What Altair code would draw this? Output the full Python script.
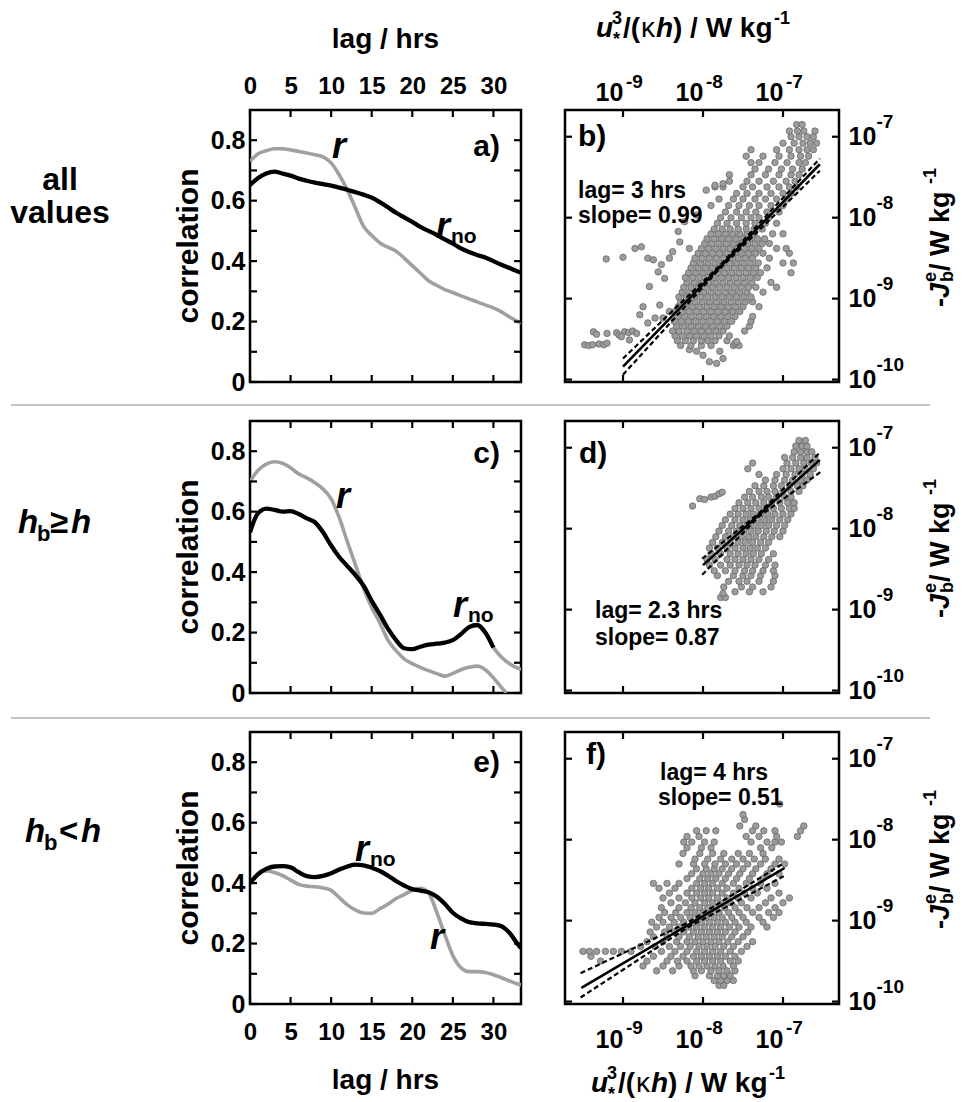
import altair as alt
import pandas as pd

FONT = "Liberation Sans"
GRAY = "#a0a0a0"
PT_FILL = "#9c9c9c"
PT_STROKE = "#606060"
W_L, W_R, H = 271, 274, 272
TK = 8      # label offset reference
TL = 7      # drawn tick length (inward)

# ---------------- correlation vs lag (hours) ----------------
LAG = list(range(34)) + [33.4]
A_R = [0.73, 0.755, 0.765, 0.772, 0.772, 0.768, 0.763, 0.758, 0.752, 0.745, 0.725, 0.685, 0.635, 0.575, 0.515,
       0.485, 0.46, 0.446, 0.433, 0.41, 0.385, 0.36, 0.335, 0.32, 0.306, 0.296, 0.285, 0.275, 0.265, 0.255,
       0.245, 0.232, 0.215, 0.2, 0.195]
A_RNO = [0.652, 0.675, 0.69, 0.696, 0.69, 0.683, 0.673, 0.666, 0.66, 0.655, 0.65, 0.643, 0.636, 0.628, 0.62,
         0.61, 0.595, 0.578, 0.56, 0.545, 0.53, 0.513, 0.5, 0.487, 0.472, 0.458, 0.442, 0.43, 0.42, 0.412,
         0.4, 0.388, 0.377, 0.366, 0.362]

C_R_LAG = list(range(32)) + [31.6]
C_R = [0.70, 0.737, 0.757, 0.765, 0.76, 0.745, 0.725, 0.712, 0.696, 0.675, 0.642, 0.58, 0.5, 0.424, 0.345,
       0.283, 0.232, 0.175, 0.14, 0.113, 0.097, 0.085, 0.074, 0.064, 0.056, 0.065, 0.077, 0.085, 0.089, 0.077,
       0.05, 0.018, 0.0]
C_RNO_LAG = [0, 0.5] + list(range(1, 31))
C_RNO = [0.532, 0.57, 0.595, 0.61, 0.606, 0.6, 0.602, 0.592, 0.578, 0.565, 0.532, 0.488, 0.45, 0.42, 0.39,
         0.355, 0.305, 0.26, 0.213, 0.175, 0.148, 0.145, 0.153, 0.16, 0.163, 0.167, 0.175, 0.195, 0.218, 0.225,
         0.2, 0.15]
C_TAIL_LAG = [30, 31, 32, 33, 33.4]
C_TAIL = [0.15, 0.118, 0.097, 0.082, 0.078]

E_R = [0.40, 0.428, 0.44, 0.435, 0.425, 0.41, 0.396, 0.39, 0.388, 0.384, 0.376, 0.352, 0.328, 0.311, 0.301,
       0.3, 0.315, 0.33, 0.349, 0.362, 0.376, 0.383, 0.368, 0.305, 0.23, 0.16, 0.12, 0.107, 0.107, 0.104,
       0.097, 0.087, 0.076, 0.066, 0.063]
E_RNO = [0.40, 0.43, 0.447, 0.455, 0.456, 0.452, 0.436, 0.423, 0.42, 0.424, 0.433, 0.445, 0.455, 0.461, 0.459,
         0.451, 0.44, 0.425, 0.407, 0.392, 0.38, 0.375, 0.37, 0.356, 0.332, 0.302, 0.283, 0.271, 0.267, 0.265,
         0.263, 0.257, 0.235, 0.198, 0.185]

LAG_TICKS = [0, 5, 10, 15, 20, 25, 30]
CORR_TICKS = [0, 0.1, 0.2, 0.3, 0.4, 0.5, 0.6, 0.7, 0.8]

# ---------------- scatter panels (log10 values) ----------------
LX_DOM = [-9.725, -6.3]
LY_DOM = [-10.03, -6.67]
DEC_X = [1e-9, 1e-8, 1e-7]
DEC_Y = [1e-10, 1e-9, 1e-8, 1e-7]

B_FIT_LX = [-9.0, -6.54]
B_FIT_LY = [-9.84, -7.34]
B_BAND_LX = [-9.0, -7.8, -6.54]
B_UP_LY = [-9.74, -8.60, -7.27]
B_LO_LY = [-9.94, -8.64, -7.42]

D_FIT_LX = [-8.0, -6.54]
D_FIT_LY = [-8.45, -7.15]
D_BAND_LX = [-8.01, -7.3, -6.53]
D_UP_LY = [-8.37, -7.81, -7.05]
D_LO_LY = [-8.57, -7.85, -7.30]

F_FIT_LX = [-9.52, -6.98]
F_FIT_LY = [-9.83, -8.35]
F_BAND_LX = [-9.53, -8.2, -6.99]
F_UP_LY = [-9.65, -9.03, -8.29]
F_LO_LY = [-9.95, -9.09, -8.45]

B_ROWS = [
    (-9.80, [-7.83]), (-9.78, [-7.92]), (-9.74, [-7.75]), (-9.70, [-8.0]),
    (-9.65, [-8.08, -7.79]), (-9.63, [-8.17]),
    (-9.58, [-8.28, -8.15, -8.02, -7.9, -7.62, -7.55]),
    (-9.52, [-8.32, -8.22, -8.12, -8.02, -7.94, -7.85, -7.7]),
    (-9.46, [-8.35, -8.26, -8.17, -8.08, -7.99, -7.9, -7.8, -7.67]),
    (-9.40, [-8.38, -8.3, -8.2, -8.11, -8.02, -7.93, -7.84, -7.75, -7.48]),
    (-9.34, [-8.33, -8.24, -8.15, -8.06, -7.97, -7.88, -7.79, -7.7, -7.42]),
    (-9.28, [-8.36, -8.27, -8.18, -8.09, -8.0, -7.91, -7.82, -7.73, -7.64, -7.4]),
    (-9.22, [-8.32, -8.23, -8.14, -8.05, -7.96, -7.87, -7.78, -7.69, -7.6, -7.38]),
    (-9.16, [-8.35, -8.26, -8.17, -8.08, -7.99, -7.9, -7.81, -7.72, -7.63, -7.54]),
    (-9.10, [-8.31, -8.22, -8.13, -8.04, -7.95, -7.86, -7.77, -7.68, -7.59, -7.5, -7.3]),
    (-9.04, [-8.28, -8.19, -8.1, -8.01, -7.92, -7.83, -7.74, -7.65, -7.56, -7.47, -7.38]),
    (-8.98, [-8.3, -8.21, -8.12, -8.03, -7.94, -7.85, -7.76, -7.67, -7.58, -7.49, -7.4]),
    (-8.92, [-8.26, -8.17, -8.08, -7.99, -7.9, -7.81, -7.72, -7.63, -7.54, -7.45, -7.25]),
    (-8.86, [-8.24, -8.15, -8.06, -7.97, -7.88, -7.79, -7.7, -7.61, -7.52, -7.43, -7.34, -7.08]),
    (-8.80, [-8.2, -8.11, -8.02, -7.93, -7.84, -7.75, -7.66, -7.57, -7.48, -7.39, -7.15]),
    (-8.74, [-8.22, -8.13, -8.04, -7.95, -7.86, -7.77, -7.68, -7.59, -7.5, -7.41, -7.32]),
    (-8.68, [-8.18, -8.09, -8.0, -7.91, -7.82, -7.73, -7.64, -7.55, -7.46, -7.37, -7.28, -6.9]),
    (-8.62, [-8.15, -8.06, -7.97, -7.88, -7.79, -7.7, -7.61, -7.52, -7.43, -7.34, -7.2]),
    (-8.56, [-8.12, -8.03, -7.94, -7.85, -7.76, -7.67, -7.58, -7.49, -7.4, -7.31, -7.0, -6.87]),
    (-8.50, [-8.1, -8.01, -7.92, -7.83, -7.74, -7.65, -7.56, -7.47, -7.38, -7.17]),
    (-8.44, [-8.06, -7.97, -7.88, -7.79, -7.7, -7.61, -7.52, -7.43, -7.34, -7.25, -6.92]),
    (-8.38, [-8.02, -7.93, -7.84, -7.75, -7.66, -7.57, -7.48, -7.39, -7.3, -7.08, -6.96]),
    (-8.32, [-7.98, -7.89, -7.8, -7.71, -7.62, -7.53, -7.44, -7.35, -7.26, -7.17]),
    (-8.26, [-7.95, -7.86, -7.77, -7.68, -7.59, -7.5, -7.41, -7.32, -7.23]),
    (-8.20, [-7.9, -7.81, -7.72, -7.63, -7.54, -7.45, -7.36, -7.13, -7.0]),
    (-8.14, [-7.86, -7.76, -7.66, -7.56, -7.46, -7.36, -7.26]),
    (-8.07, [-7.82, -7.7, -7.58, -7.46, -7.35, -7.22, -7.08]),
    (-8.00, [-7.78, -7.65, -7.52, -7.4, -7.3, -7.18]),
    (-7.93, [-7.72, -7.58, -7.46, -7.34, -7.2, -7.05]),
    (-7.85, [-7.9, -7.68, -7.55, -7.42, -7.3, -7.15, -7.0]),
    (-7.77, [-7.8, -7.62, -7.5, -7.35, -7.22, -7.08, -6.95]),
    (-7.70, [-7.58, -7.45, -7.3, -7.15, -7.0, -6.9]),
    (-7.62, [-7.85, -7.75, -7.5, -7.38, -7.2, -7.05, -6.92, -6.83]),
    (-7.55, [-7.67, -7.45, -7.3, -7.12, -6.96, -6.85]),
    (-7.47, [-7.67, -7.4, -7.22, -7.05, -6.9, -6.8]),
    (-7.40, [-7.35, -7.18, -7.02, -6.88, -6.76]),
    (-7.32, [-7.4, -7.3, -7.1, -6.95, -6.8, -6.72]),
    (-7.24, [-7.46, -7.25, -7.05, -6.9, -6.78, -6.68]),
    (-7.16, [-7.4, -7.08, -6.92, -6.8, -6.7, -6.62]),
    (-7.08, [-7.0, -6.86, -6.75, -6.66, -6.58]),
    (-7.00, [-6.9, -6.8, -6.7, -6.62]),
    (-6.93, [-6.92, -6.82, -6.74, -6.6]),
    (-6.85, [-6.83, -6.76]),
]
B_EXTRA = [
    (-9.37, -9.41), (-9.33, -9.44), (-9.2, -9.43), (-9.08, -9.42), (-9.05, -9.45), (-8.98, -9.41),
    (-8.93, -9.42), (-8.88, -9.40), (-8.83, -9.43), (-9.48, -9.57), (-9.43, -9.58), (-9.38, -9.57),
    (-9.30, -9.56), (-9.24, -9.57), (-9.2, -9.55), (-9.02, -9.47), (-8.92, -9.51),
    (-9.21, -8.51), (-9.0, -8.49), (-8.85, -8.38), (-8.77, -8.36), (-8.69, -8.5), (-8.62, -8.52),
    (-8.52, -8.58), (-8.42, -8.5), (-8.56, -8.67), (-8.48, -8.75), (-8.67, -8.85), (-8.75, -9.1),
    (-8.79, -9.2), (-8.54, -9.08), (-8.6, -9.24), (-8.69, -9.3), (-8.5, -9.24), (-8.42, -9.16),
    (-8.38, -8.42), (-8.29, -8.3), (-8.31, -8.17), (-8.17, -8.38), (-8.23, -8.05), (-8.08, -7.97),
    (-7.96, -7.66), (-7.85, -7.6), (-7.75, -7.58), (-7.6, -9.55), (-7.58, -9.53),
]

D_ROWS = [
    (-8.85, [-7.78, -7.72]),
    (-8.78, [-7.6, -7.42, -7.25]),
    (-8.72, [-7.74, -7.52, -7.38, -7.15]),
    (-8.65, [-7.68, -7.55, -7.45, -7.3, -7.12]),
    (-8.58, [-7.82, -7.62, -7.5, -7.4, -7.28, -7.1]),
    (-8.52, [-7.86, -7.72, -7.6, -7.48, -7.38, -7.25, -7.12]),
    (-8.45, [-7.92, -7.78, -7.66, -7.55, -7.45, -7.35, -7.22, -7.1]),
    (-8.38, [-7.95, -7.85, -7.7, -7.6, -7.5, -7.4, -7.3, -7.18]),
    (-8.31, [-7.9, -7.78, -7.66, -7.56, -7.46, -7.37, -7.27, -7.12]),
    (-8.24, [-7.92, -7.82, -7.7, -7.6, -7.5, -7.41, -7.32, -7.22]),
    (-8.17, [-7.88, -7.76, -7.66, -7.56, -7.47, -7.38, -7.28, -7.18]),
    (-8.10, [-7.84, -7.72, -7.62, -7.52, -7.43, -7.34, -7.24, -7.14, -7.04]),
    (-8.03, [-7.8, -7.68, -7.58, -7.49, -7.4, -7.31, -7.21, -7.11, -7.0]),
    (-7.96, [-7.76, -7.64, -7.54, -7.45, -7.36, -7.27, -7.18, -7.08, -6.98]),
    (-7.89, [-7.72, -7.6, -7.5, -7.41, -7.32, -7.23, -7.14, -7.04, -6.94]),
    (-7.82, [-7.66, -7.56, -7.46, -7.37, -7.28, -7.19, -7.1, -7.0, -6.9]),
    (-7.75, [-7.6, -7.5, -7.4, -7.3, -7.21, -7.12, -7.02, -6.92, -6.86]),
    (-7.68, [-7.55, -7.44, -7.34, -7.24, -7.14, -7.04, -6.94, -6.86]),
    (-7.61, [-7.48, -7.38, -7.27, -7.18, -7.08, -6.98, -6.9]),
    (-7.54, [-7.42, -7.3, -7.2, -7.1, -7.0, -6.9, -6.8]),
    (-7.47, [-7.35, -7.24, -7.12, -7.02, -6.92, -6.82, -6.75]),
    (-7.40, [-7.22, -7.1, -6.98, -6.88, -6.78, -6.7]),
    (-7.33, [-7.3, -7.08, -6.96, -6.85, -6.76, -6.66]),
    (-7.26, [-7.44, -7.0, -6.9, -6.8, -6.72, -6.62]),
    (-7.19, [-7.38, -6.95, -6.84, -6.74, -6.65, -6.58]),
    (-7.12, [-6.98, -6.88, -6.78, -6.7, -6.6]),
    (-7.05, [-6.86, -6.78, -6.7, -6.64]),
    (-6.98, [-6.84, -6.76, -6.7]),
    (-6.91, [-6.8, -6.72]),
]
D_EXTRA = [(-8.13, -7.72), (-8.04, -7.63), (-7.98, -7.64), (-7.9, -7.61), (-7.85, -7.6), (-7.8, -7.57),
           (-7.76, -7.55), (-7.75, -8.8)]

F_ROWS = [
    (-9.80, [-7.8, -7.74]),
    (-9.74, [-7.86, -7.78, -7.7, -7.62]),
    (-9.68, [-8.1, -7.92, -7.82, -7.74, -7.66]),
    (-9.62, [-8.58, -8.38, -8.12, -8.02, -7.9, -7.8, -7.7, -7.6]),
    (-9.56, [-8.75, -8.5, -8.3, -8.15, -8.05, -7.95, -7.85, -7.75, -7.62]),
    (-9.50, [-9.28, -8.7, -8.45, -8.32, -8.2, -8.08, -7.98, -7.88, -7.78, -7.66, -7.56]),
    (-9.44, [-9.4, -8.62, -8.4, -8.25, -8.12, -8.02, -7.92, -7.82, -7.72, -7.6]),
    (-9.38, [-9.5, -9.42, -9.33, -9.22, -9.12, -9.02, -8.9, -8.52, -8.35, -8.2, -8.08, -7.98, -7.88,
             -7.78, -7.66, -7.52]),
    (-9.32, [-8.78, -8.6, -8.42, -8.28, -8.16, -8.05, -7.95, -7.85, -7.74, -7.62, -7.45]),
    (-9.26, [-8.7, -8.5, -8.33, -8.2, -8.1, -8.0, -7.9, -7.8, -7.69, -7.56, -7.38]),
    (-9.20, [-8.62, -8.45, -8.3, -8.17, -8.06, -7.96, -7.86, -7.76, -7.64, -7.5]),
    (-9.14, [-8.66, -8.48, -8.36, -8.24, -8.12, -8.02, -7.92, -7.82, -7.72, -7.6, -7.44]),
    (-9.08, [-8.58, -8.42, -8.3, -8.18, -8.08, -7.98, -7.88, -7.78, -7.67, -7.55, -7.4, -7.2]),
    (-9.02, [-8.64, -8.5, -8.36, -8.24, -8.12, -8.02, -7.92, -7.82, -7.72, -7.6, -7.46, -7.25]),
    (-8.96, [-8.55, -8.4, -8.28, -8.16, -8.06, -7.96, -7.86, -7.76, -7.64, -7.5, -7.3, -7.12]),
    (-8.90, [-8.48, -8.34, -8.2, -8.1, -8.0, -7.9, -7.8, -7.68, -7.55, -7.38, -7.18, -7.05]),
    (-8.84, [-8.52, -8.3, -8.15, -8.04, -7.94, -7.84, -7.73, -7.6, -7.45, -7.3, -7.1]),
    (-8.78, [-8.4, -8.22, -8.1, -7.98, -7.88, -7.78, -7.66, -7.52, -7.22, -7.0]),
    (-8.72, [-8.5, -8.3, -8.14, -8.03, -7.93, -7.82, -7.7, -7.56, -7.4, -7.15, -6.92]),
    (-8.66, [-8.42, -8.2, -8.08, -7.98, -7.88, -7.76, -7.62, -7.48, -7.32, -7.05]),
    (-8.60, [-8.55, -8.35, -8.14, -8.03, -7.93, -7.82, -7.7, -7.55, -7.38, -7.2]),
    (-8.54, [-8.62, -8.45, -8.3, -8.08, -7.98, -7.88, -7.76, -7.62, -7.46, -7.28, -7.1]),
    (-8.48, [-8.2, -8.04, -7.94, -7.84, -7.72, -7.58, -7.42, -7.25]),
    (-8.42, [-8.14, -8.0, -7.9, -7.8, -7.68, -7.54, -7.38, -7.2, -7.05]),
    (-8.36, [-8.08, -7.96, -7.86, -7.76, -7.64, -7.5, -7.34, -7.15]),
    (-8.30, [-8.3, -8.12, -7.98, -7.85, -7.72, -7.58, -7.44, -7.28, -7.1, -6.98]),
    (-8.24, [-8.1, -7.94, -7.78, -7.64, -7.5, -7.36, -7.22, -7.05]),
    (-8.17, [-8.25, -8.04, -7.88, -7.74, -7.56, -7.42, -7.25]),
    (-8.10, [-8.2, -8.02, -7.9, -7.28, -7.14]),
    (-8.03, [-8.24, -8.14, -7.98, -7.86, -7.4, -7.2, -7.1, -7.02]),
    (-7.96, [-8.2, -8.05, -7.46, -7.3, -7.08, -6.82]),
    (-7.89, [-8.08, -7.96, -7.84, -7.38, -7.24, -7.1, -6.78]),
    (-7.83, [-7.54, -7.34, -6.74]),
    (-7.75, [-7.48]),
    (-7.69, [-7.5]),
    (-7.56, [-7.04]),
]
F_EXTRA = []

ONE = pd.DataFrame({"k": [0]})


def txt(text, x, y, size, italic=False, bold=True, align="left", baseline="alphabetic", angle=0, color="black"):
    kw = dict(text=text, font=FONT, fontSize=size, fontWeight="bold" if bold else "normal",
              align=align, baseline=baseline, color=color)
    if italic:
        kw["fontStyle"] = "italic"
    if angle:
        kw["angle"] = angle
    return alt.Chart(ONE).mark_text(**kw).encode(x=alt.value(x), y=alt.value(y))


def rich(pieces, x0, y0, rotate=False):
    out = []
    for text, dx, dy, size, italic, bold in pieces:
        if rotate:
            out.append(txt(text, x0 + dy, y0 - dx, size, italic=italic, bold=bold, angle=270))
        else:
            out.append(txt(text, x0 + dx, y0 + dy, size, italic=italic, bold=bold))
    return out


def hline(x1, x2, y):
    return alt.Chart(ONE).mark_rule(color="#8a8a8a", strokeWidth=1.2).encode(
        x=alt.value(x1), x2=alt.value(x2), y=alt.value(y))


def frame_ticks(xvals, yvals, xs, ys, w):
    """Inward tick marks on all four sides, positioned through the panel's scales."""
    dfx = pd.DataFrame({"v": xvals})
    dfy = pd.DataFrame({"v": yvals})
    out = []
    for a, b in [(0, TL), (H - TL, H)]:
        out.append(alt.Chart(dfx).mark_rule(color="black", strokeWidth=2.2).encode(
            x=alt.X("v:Q", scale=xs, axis=None), y=alt.value(a), y2=alt.value(b)))
    for a, b in [(0, TL), (w - TL, w)]:
        out.append(alt.Chart(dfy).mark_rule(color="black", strokeWidth=2.2).encode(
            y=alt.Y("v:Q", scale=ys, axis=None), x=alt.value(a), x2=alt.value(b)))
    return out


# ---------- axes (labels only; offsets keep label distance from the frame) ----------
def lag_ax(orient, labels):
    kw = dict(orient=orient, values=LAG_TICKS, labels=labels, tickSize=TK, offset=-TK, tickOpacity=0, title="",
              labelFlush=False, labelOverlap=False, labelFontSize=24)
    if labels:
        kw["labelPadding"] = 12 if orient == "top" else 16
    return alt.Axis(**kw)


def corr_ax(orient, labels):
    kw = dict(orient=orient, values=CORR_TICKS, labels=labels, tickSize=TK, offset=-TK, tickOpacity=0, title="",
              labelOverlap=False, labelFontSize=25)
    if labels:
        kw["labelPadding"] = 5
        kw["labelExpr"] = ("datum.value == 0 ? '0' : (round(datum.value * 10) % 2 == 0 ? "
                           "format(datum.value, '.1f') : '')")
    return alt.Axis(**kw)


def tick_axis(orient, values):
    return alt.Axis(orient=orient, values=values, labels=False, tickSize=TK, offset=-TK, tickOpacity=0, title="")


def ten_axis(orient, values, pad, loff):
    return alt.Axis(orient=orient, values=values, labelExpr="'10'", labelFontSize=25, labelPadding=pad,
                    labelOffset=loff, tickSize=TK, offset=-TK, tickOpacity=0, title="", labelFlush=False,
                    labelOverlap=False)


def exp_axis(orient, values, pad, loff):
    return alt.Axis(orient=orient, values=values, labelExpr="'' + round(log(datum.value) / LN10)",
                    labelFontSize=19, labelPadding=pad, labelOffset=loff, tickSize=TK, tickOpacity=0,
                    offset=-TK, title="", labelFlush=False, labelOverlap=False)


def corr_panel(r_lag, r_val, n_lag, n_val, top_labels, bot_labels, extra, tail=None):
    xs = alt.Scale(domain=[0, 33.4], nice=False, zero=False)
    ys = alt.Scale(domain=[0, 0.9], nice=False)
    df_r = pd.DataFrame({"lag": r_lag, "corr": r_val})
    df_n = pd.DataFrame({"lag": n_lag, "corr": n_val})
    l_r = alt.Chart(df_r).mark_line(color=GRAY, strokeWidth=3.6, interpolate="monotone", clip=True).encode(
        x=alt.X("lag:Q", scale=xs, axis=lag_ax("bottom", bot_labels)),
        y=alt.Y("corr:Q", scale=ys, axis=corr_ax("left", True)))
    layers = [l_r]
    if tail is not None:
        df_t = pd.DataFrame({"lag": tail[0], "corr": tail[1]})
        layers.append(alt.Chart(df_t).mark_line(color=GRAY, strokeWidth=3.6, interpolate="monotone",
                                                clip=True).encode(
            x=alt.X("lag:Q", scale=xs, axis=None), y=alt.Y("corr:Q", scale=ys, axis=None)))
    l_n = alt.Chart(df_n).mark_line(color="black", strokeWidth=4.3, interpolate="monotone", clip=True).encode(
        x=alt.X("lag:Q", scale=xs, axis=lag_ax("top", top_labels)),
        y=alt.Y("corr:Q", scale=ys, axis=corr_ax("right", False)))
    layers.append(l_n)
    layers += frame_ticks(LAG_TICKS, CORR_TICKS, xs, ys, W_L)
    layers.append(txt("correlation", -61, H / 2, 30, align="center", baseline="middle", angle=270))
    layers += extra
    return alt.layer(*layers).resolve_axis(x="independent", y="independent").properties(width=W_L, height=H)


def cloud(rows, extra):
    xs, ys = [], []
    for ly, lxs in rows:
        for lx in lxs:
            xs.append(10 ** lx)
            ys.append(10 ** ly)
    for lx, ly in extra:
        xs.append(10 ** lx)
        ys.append(10 ** ly)
    return pd.DataFrame({"x": xs, "y": ys})


def line_df(lxs, lys):
    return pd.DataFrame({"x": [10 ** v for v in lxs], "y": [10 ** v for v in lys]})


J_TITLE = [("-", 0, 0, 27, False, True), ("J", 9, 0, 27, True, True), ("e", 25, -13, 18, False, True),
           ("b", 25, 4, 18, False, True), (" / W kg", 36, 0, 27, False, True), ("-1", 123, -13, 18, False, True)]
U_TITLE = [("u", 0, 0, 28, True, True), ("*", 17, 8, 18, False, True), ("3", 16, -13, 18, False, True),
           ("/(", 27, 0, 28, False, True), ("\u03ba", 45, 0, 28, False, False), ("h", 60, 0, 28, True, True),
           (") / W kg", 77, 0, 28, False, True), ("-1", 178, -13, 18, False, True)]


def scatter_panel(rows, extra, fit, band_lx, up_ly, lo_ly, x_pts_ax, x_fit_ax, x_up_ax, extra_layers):
    xs = alt.Scale(type="log", domain=[10 ** LX_DOM[0], 10 ** LX_DOM[1]], nice=False)
    ys = alt.Scale(type="log", domain=[10 ** LY_DOM[0], 10 ** LY_DOM[1]], nice=False)
    pts = alt.Chart(cloud(rows, extra)).mark_circle(size=42, color=PT_FILL, opacity=1, stroke=PT_STROKE,
                                                    strokeWidth=0.7).encode(
        x=alt.X("x:Q", scale=xs, axis=x_pts_ax), y=alt.Y("y:Q", scale=ys, axis=tick_axis("left", DEC_Y)))
    fit_l = alt.Chart(line_df(*fit)).mark_line(color="black", strokeWidth=2.6, clip=True).encode(
        x=alt.X("x:Q", scale=xs, axis=x_fit_ax), y=alt.Y("y:Q", scale=ys, axis=ten_axis("right", DEC_Y, 9, 0)))
    up_l = alt.Chart(line_df(band_lx, up_ly)).mark_line(color="black", strokeWidth=2.2, strokeDash=[5, 3],
                                                       clip=True).encode(
        x=alt.X("x:Q", scale=xs, axis=x_up_ax), y=alt.Y("y:Q", scale=ys, axis=exp_axis("right", DEC_Y, 37, -15)))
    lo_l = alt.Chart(line_df(band_lx, lo_ly)).mark_line(color="black", strokeWidth=2.2, strokeDash=[5, 3],
                                                       clip=True).encode(
        x=alt.X("x:Q", scale=xs, axis=None), y=alt.Y("y:Q", scale=ys, axis=None))
    layers = [pts, fit_l, up_l, lo_l] + frame_ticks(DEC_X, DEC_Y, xs, ys, W_R)
    layers += rich(J_TITLE, 384, 197, rotate=True) + extra_layers
    return alt.layer(*layers).resolve_axis(x="independent", y="independent").properties(width=W_R, height=H)


# ---------- panels ----------
pa = corr_panel(LAG, A_R, LAG, A_RNO, True, False, [
    txt("r", 89, 48, 36, italic=True, align="center"),
    txt("r", 193, 128, 36, italic=True, align="center"),
    txt("no", 201, 133, 21),
    txt("a)", 250, 46, 30, align="right"),
    txt("lag / hrs", W_L / 2, -62, 28, align="center"),
    txt("all", -190, 80, 32, align="center"),
    txt("values", -190, 113, 32, align="center"),
    hline(-239, 680, 295),
])

pc = corr_panel(C_R_LAG, C_R, C_RNO_LAG, C_RNO, False, False, [
    txt("r", 93, 87, 36, italic=True, align="center"),
    txt("r", 210, 196, 36, italic=True, align="center"),
    txt("no", 218, 201, 21),
    txt("c)", 250, 42, 30, align="right"),
] + rich([("h", 0, 0, 33, True, True), ("b", 19, 8, 22, False, True), ("\u2265", 32, 0, 33, False, True),
          ("h", 53, 0, 33, True, True)], -232, 112) + [hline(-239, 680, 297)],
    tail=(C_TAIL_LAG, C_TAIL))

pe = corr_panel(LAG, E_R, LAG, E_RNO, False, True, [
    txt("r", 112, 129, 36, italic=True, align="center"),
    txt("no", 120, 134, 21),
    txt("r", 187, 217, 36, italic=True, align="center"),
    txt("e)", 250, 40, 30, align="right"),
    txt("lag / hrs", W_L / 2, H + 85, 28, align="center"),
] + rich([("h", 0, 0, 33, True, True), ("b", 19, 8, 22, False, True), ("<", 34, 0, 33, False, True),
          ("h", 56, 0, 33, True, True)], -225, 110))

pb = scatter_panel(B_ROWS, B_EXTRA, (B_FIT_LX, B_FIT_LY), B_BAND_LX, B_UP_LY, B_LO_LY,
                   tick_axis("bottom", DEC_X), ten_axis("top", DEC_X, 5, -14), exp_axis("top", DEC_X, 19, 11), [
                       txt("b)", 13, 36, 30),
                       txt("lag= 3 hrs", 13, 88, 23),
                       txt("slope= 0.99", 13, 113, 23),
                   ] + rich(U_TITLE, 31, -73))

pd_ = scatter_panel(D_ROWS, D_EXTRA, (D_FIT_LX, D_FIT_LY), D_BAND_LX, D_UP_LY, D_LO_LY,
                    tick_axis("bottom", DEC_X), tick_axis("top", DEC_X), None, [
                        txt("d)", 14, 42, 30),
                        txt("lag= 2.3 hrs", 30, 197, 23),
                        txt("slope= 0.87", 30, 224, 23),
                    ])

pf = scatter_panel(F_ROWS, F_EXTRA, (F_FIT_LX, F_FIT_LY), F_BAND_LX, F_UP_LY, F_LO_LY,
                   ten_axis("bottom", DEC_X, 23, -14), tick_axis("top", DEC_X), exp_axis("bottom", DEC_X, 14, 11), [
                       txt("f)", 21, 32, 30),
                       txt("lag= 4 hrs", 95, 48, 23),
                       txt("slope= 0.51", 93, 73, 23),
                   ] + rich(U_TITLE, 26, H + 88))

chart = alt.concat(pa, pb, pc, pd_, pe, pf, columns=2, spacing={"row": 39, "column": 44}, bounds="flush",
                   padding=0).configure_view(stroke="black", strokeWidth=2.5).configure_axis(
    labelFont=FONT, labelFontWeight="bold", labelColor="black", tickColor="black", tickWidth=2.2,
    grid=False, domain=False)

chart.save("out.html", embed_options={"renderer": "svg", "actions": False})
